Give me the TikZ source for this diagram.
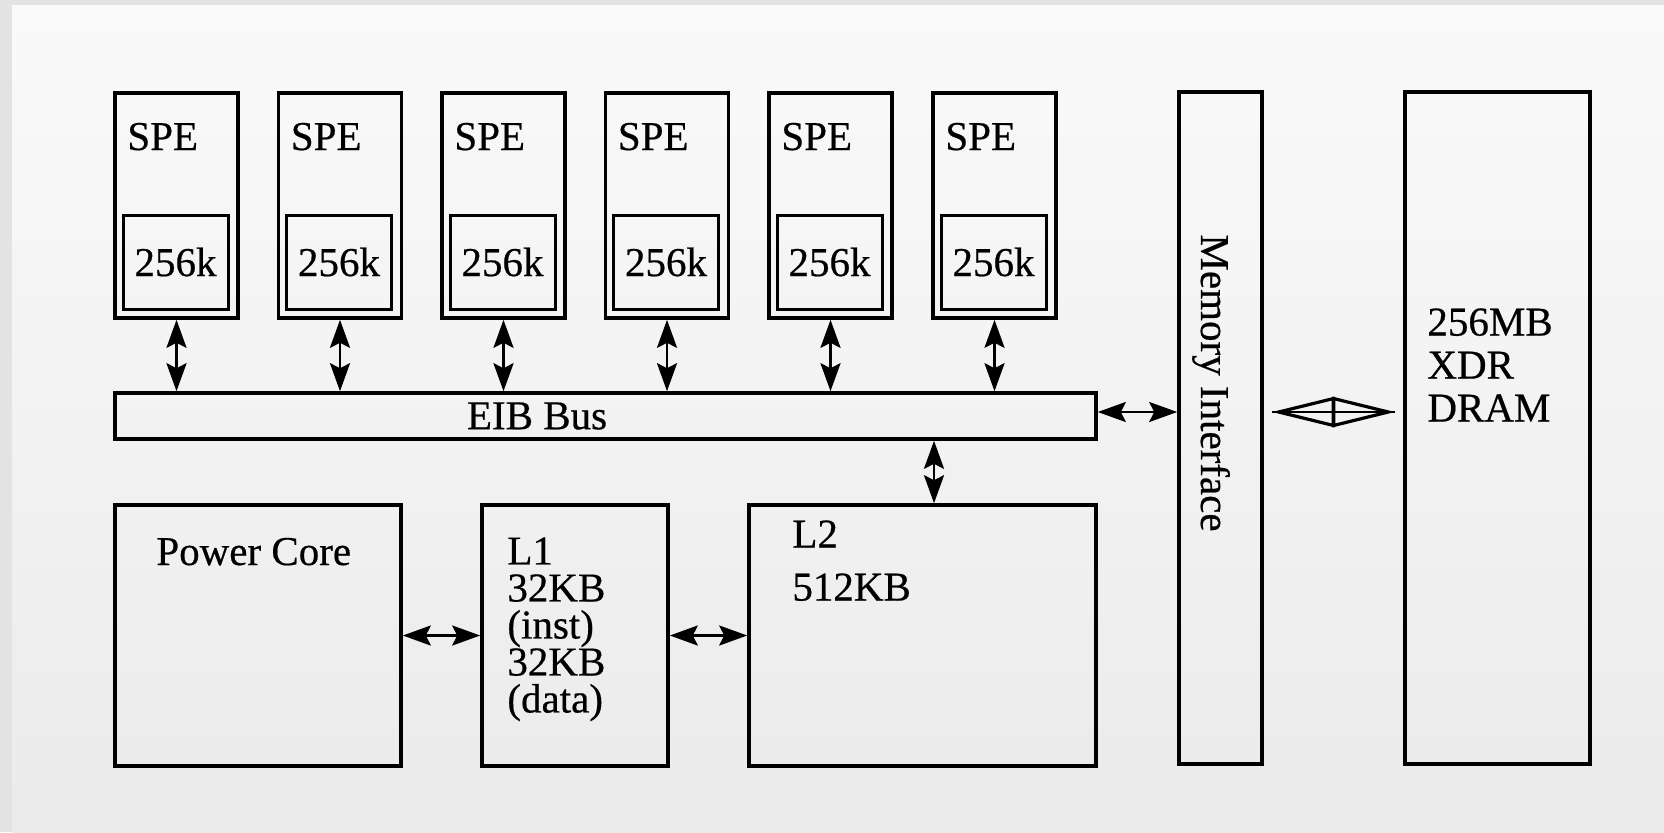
\documentclass[tikz,border=0pt]{standalone}
\usepackage{fontspec}
\setmainfont{Liberation Serif}[FakeBold=0.5]
\usetikzlibrary{arrows.meta}

\begin{document}
\begin{tikzpicture}[x=5pt, y=-5pt,
    font=\fontsize{20.5}{21.5}\selectfont,
    box/.style={draw, line width=1.8pt, inner sep=0pt},
    spebox/.style={box, minimum width=61.5pt, minimum height=112.5pt},
    localmem/.style={box, line width=1.5pt, minimum width=52.5pt, minimum height=47pt},
    txt/.style={inner sep=0pt, anchor=north west, align=left},
    link/.style={{Stealth[length=14pt, width=10pt, inset=2.5pt]}-{Stealth[length=14pt, width=10pt, inset=2.5pt]}, line width=1.3pt},
    widelink/.style={{Triangle[open, length=31.5pt, width=15pt]}-{Triangle[open, length=31.5pt, width=15pt]}, line width=1.6pt, shorten <=4pt, shorten >=4pt}]

    % Scanned page
    \useasboundingbox (0,0) rectangle (166.4,83.2);
    \fill[black!11] (0,0) rectangle (166.4,83.2);
    \shade[top color=black!2, bottom color=black!8] (1.2,0.5) rectangle (166.4,83.2);

    % EIB bus
    \node[box, minimum width=490.5pt, minimum height=23pt] (bus) at (60.55,41.6) {};
    \node[inner sep=0pt] (busname) at (53.7,41.6) {EIB Bus};

    % SPE 1
    \node[spebox] (spe1) at (17.65,20.55) {};
    \node[localmem] (mem1) at (17.55,26.2) {256k};
    \node[inner sep=0pt, anchor=base west] (spename1) at (12.7,15.0) {SPE};
    \draw[link] (spe1.south) -- (spe1.south |- bus.north);

    % SPE 2
    \node[spebox] (spe2) at (34.0,20.55) {};
    \node[localmem] (mem2) at (33.9,26.2) {256k};
    \node[inner sep=0pt, anchor=base west] (spename2) at (29.05,15.0) {SPE};
    \draw[link] (spe2.south) -- (spe2.south |- bus.north);

    % SPE 3
    \node[spebox] (spe3) at (50.35,20.55) {};
    \node[localmem] (mem3) at (50.25,26.2) {256k};
    \node[inner sep=0pt, anchor=base west] (spename3) at (45.4,15.0) {SPE};
    \draw[link] (spe3.south) -- (spe3.south |- bus.north);

    % SPE 4
    \node[spebox] (spe4) at (66.7,20.55) {};
    \node[localmem] (mem4) at (66.6,26.2) {256k};
    \node[inner sep=0pt, anchor=base west] (spename4) at (61.75,15.0) {SPE};
    \draw[link] (spe4.south) -- (spe4.south |- bus.north);

    % SPE 5
    \node[spebox] (spe5) at (83.05,20.55) {};
    \node[localmem] (mem5) at (82.95,26.2) {256k};
    \node[inner sep=0pt, anchor=base west] (spename5) at (78.1,15.0) {SPE};
    \draw[link] (spe5.south) -- (spe5.south |- bus.north);

    % SPE 6
    \node[spebox] (spe6) at (99.45,20.55) {};
    \node[localmem] (mem6) at (99.35,26.2) {256k};
    \node[inner sep=0pt, anchor=base west] (spename6) at (94.5,15.0) {SPE};
    \draw[link] (spe6.south) -- (spe6.south |- bus.north);

    % Power core and caches
    \node[box, minimum width=143pt, minimum height=130.5pt] (pc) at (25.8,63.55) {};
    \node[inner sep=0pt, anchor=base west] (pcname) at (15.6,56.5) {Power Core};
    \node[box, minimum width=93pt, minimum height=130.5pt] (l1) at (57.5,63.55) {};
    \node[txt, font=\fontsize{20.5}{18.5}\selectfont] (l1text) at (50.7,53.7) {L1\\32KB\\(inst)\\32KB\\(data)};
    \node[box, minimum width=173.5pt, minimum height=130.5pt] (l2) at (92.25,63.55) {};
    \node[txt] (l2text) at (79.2,52.0) {L2\\[5pt]512KB};
    \draw[link] (pc.east) -- (l1.west);
    \draw[link] (l1.east) -- (l2.west);
    \coordinate (l2tap) at ([xshift=5.75pt]l2.north);
    \draw[link] (l2tap |- bus.south) -- (l2tap);

    % Memory interface and DRAM
    \node[box, minimum width=41.5pt, minimum height=336pt] (mi) at (122.05,42.8) {};
    \node[inner sep=0pt, rotate=-90] (miname) at (121.1,38.3) {Memory Interface};
    \node[box, minimum width=92.5pt, minimum height=336pt] (dram) at (149.75,42.8) {};
    \node[txt] (dramtext) at (142.7,30.8) {256MB\\XDR\\DRAM};
    \coordinate (busport) at ([yshift=2pt]bus.east);
    \draw[link] (busport) -- (busport -| mi.west);
    \draw[widelink] (busport -| mi.east) -- (busport -| dram.west);
    \draw[line width=1.2pt, shorten <=4pt, shorten >=4pt] (busport -| mi.east) -- (busport -| dram.west);
\end{tikzpicture}
\end{document}
